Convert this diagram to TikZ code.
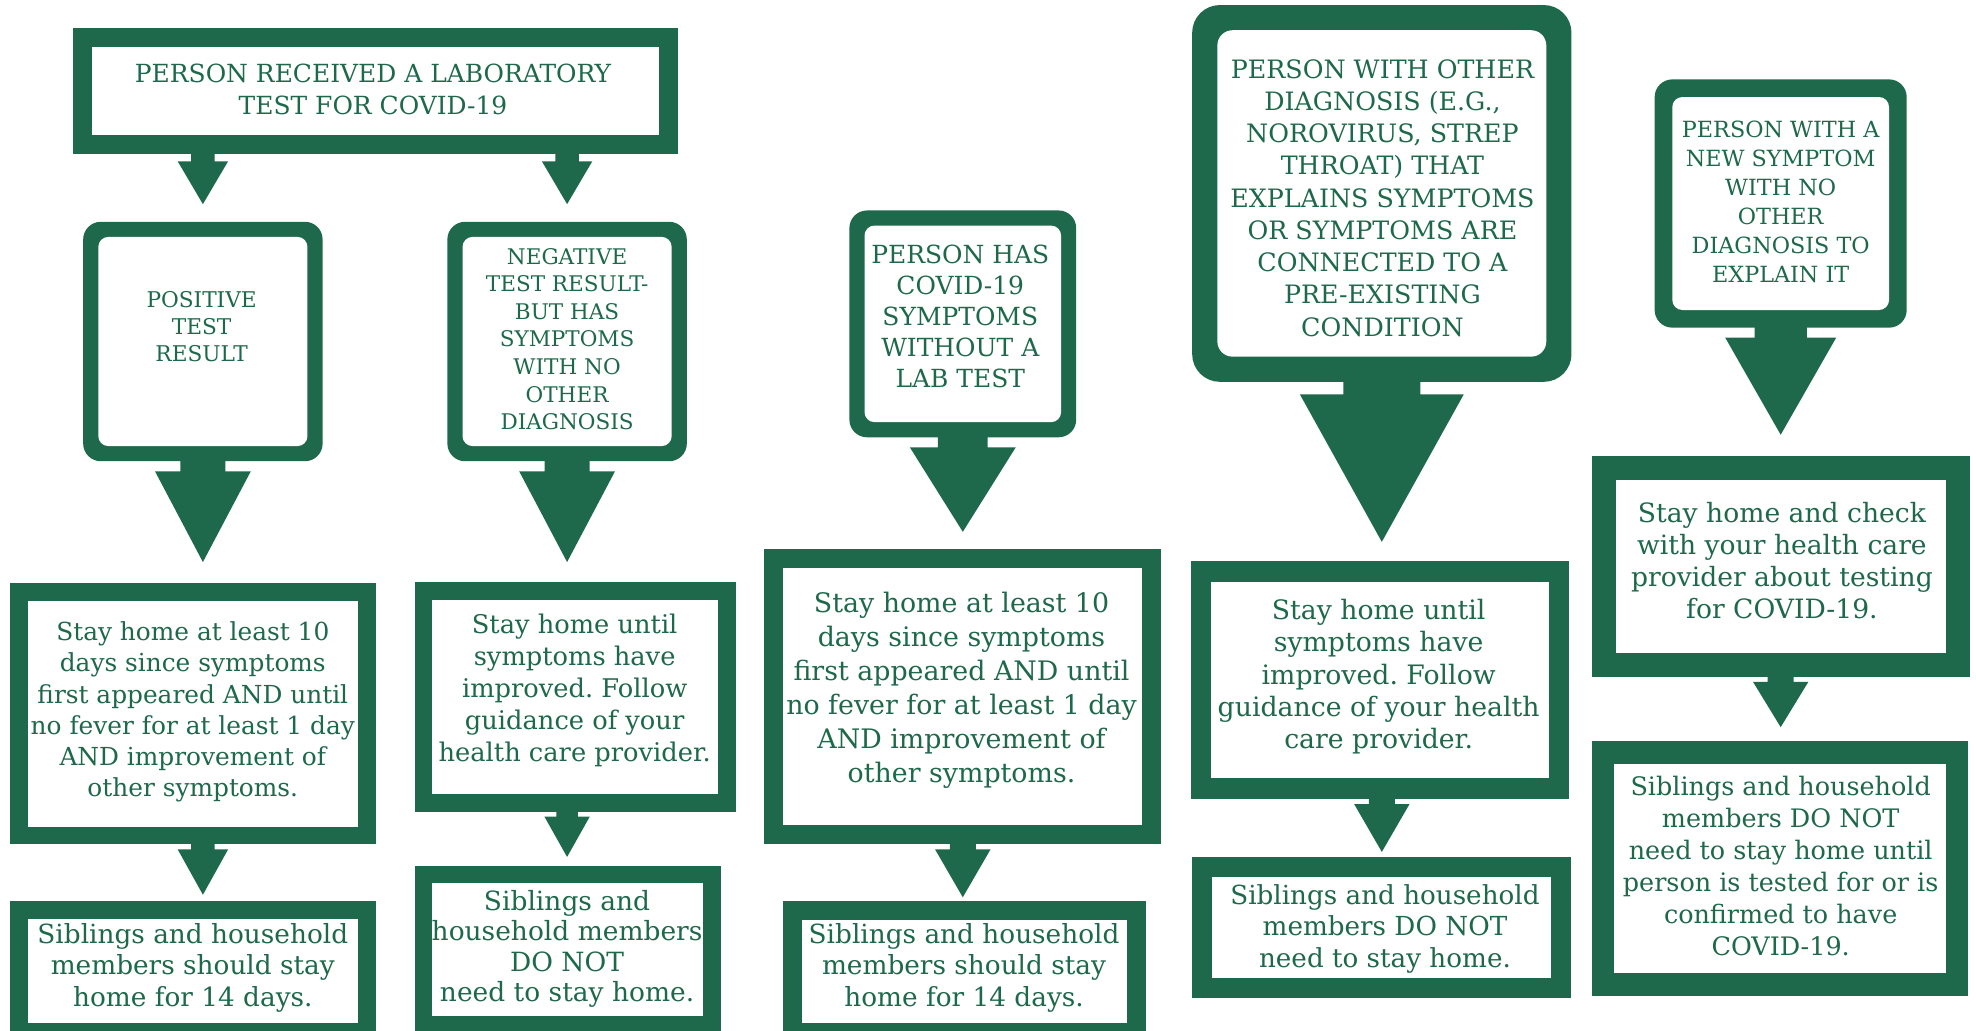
\documentclass[tikz,border=0pt]{standalone}
\usepackage{fontspec}
\setmainfont{DejaVu Serif}
\usetikzlibrary{calc}
\definecolor{gr}{HTML}{1E694B}
\frenchspacing
\tikzset{
  outerbox/.style={fill=gr, draw=none, inner sep=0pt, outer sep=0pt},
  innerbox/.style={fill=white, draw=none, inner sep=0pt, outer sep=0pt},
  txt/.style={text=gr, align=center, inner sep=0pt},
}
\newcommand{\setfs}[2]{\fontsize{#1}{#2}\selectfont}
% #1 source, #2 target, #3 node giving x, #4 half width, #5 stem height, #6 gap
\newcommand{\garrow}[6]{%
  \path (#3.center |- #1.south) coordinate (gas) (#3.center |- #2.north) coordinate (gat);
  \fill[gr] ($(gas)+({-0.47*#4},-1)$) -- ($(gas)+({-0.47*#4},#5)$) -- ($(gas)+(-#4,#5)$)
    -- ($(gat)+(0,-#6)$) -- ($(gas)+(#4,#5)$) -- ($(gas)+({0.47*#4},#5)$)
    -- ($(gas)+({0.47*#4},-1)$) -- cycle;
}
\begin{document}
\begin{tikzpicture}[x=1pt,y=-1pt]
\useasboundingbox (0,0) rectangle (1568,818);
\fill[white] (0,0) rectangle (1568,818);
\clip (0,0) rectangle (1568,818);

% ---- boxes ----
\node[outerbox, minimum width=480pt, minimum height=100pt] (T) at (298,72) {};
\node[innerbox, minimum width=450pt, minimum height=70pt] (Ti) at (T) {};

\node[outerbox, rounded corners=14pt, minimum width=190pt, minimum height=190pt] (P) at (161,271) {};
\node[innerbox, rounded corners=8pt, minimum width=166pt, minimum height=166pt] (Pi) at (P) {};

\node[outerbox, rounded corners=14pt, minimum width=190pt, minimum height=190pt] (N) at (450,271) {};
\node[innerbox, rounded corners=8pt, minimum width=166pt, minimum height=166pt] (Ni) at (N) {};

\node[outerbox, rounded corners=14pt, minimum width=180pt, minimum height=180pt] (H) at (764,257) {};
\node[innerbox, rounded corners=8pt, minimum width=156pt, minimum height=156pt] (Hi) at (H) {};

\node[outerbox, rounded corners=22pt, minimum width=301pt, minimum height=299pt] (O) at (1096.5,153.5) {};
\node[innerbox, rounded corners=12pt, minimum width=261pt, minimum height=259pt] (Oi) at (O) {};

\node[outerbox, rounded corners=14pt, minimum width=200pt, minimum height=197pt] (W) at (1413,161.5) {};
\node[innerbox, rounded corners=8pt, minimum width=172pt, minimum height=169pt] (Wi) at (W) {};

\node[outerbox, minimum width=290pt, minimum height=207pt] (S1) at (153,566.5) {};
\node[innerbox, minimum width=262pt, minimum height=179pt] (S1i) at (S1) {};
\node[outerbox, minimum width=290pt, minimum height=111pt] (B1) at (153,770.5) {};
\node[innerbox, minimum width=262pt, minimum height=83pt] (B1i) at (B1) {};

\node[outerbox, minimum width=255pt, minimum height=182pt] (S2) at (456.5,553) {};
\node[innerbox, minimum width=227pt, minimum height=154pt] (S2i) at (S2) {};
\node[outerbox, minimum width=243pt, minimum height=133pt] (B2) at (450.5,753.5) {};
\node[innerbox, minimum width=215pt, minimum height=105pt] (B2i) at (B2) {};

\node[outerbox, minimum width=315pt, minimum height=234pt] (S3) at (763.5,553) {};
\node[innerbox, minimum width=285pt, minimum height=204pt] (S3i) at (S3) {};
\node[outerbox, minimum width=288pt, minimum height=112pt] (B3) at (765,771) {};
\node[innerbox, minimum width=258pt, minimum height=82pt] (B3i) at (B3) {};

\node[outerbox, minimum width=300pt, minimum height=189pt] (S4) at (1095,539.5) {};
\node[innerbox, minimum width=268pt, minimum height=155pt] (S4i) at (S4) {};
\node[outerbox, minimum width=301pt, minimum height=112pt] (B4) at (1096.5,736) {};
\node[innerbox, minimum width=269pt, minimum height=80pt] (B4i) at (B4) {};

\node[outerbox, minimum width=300pt, minimum height=175pt] (S5) at (1413,449.5) {};
\node[innerbox, minimum width=262pt, minimum height=137pt] (S5i) at (S5) {};
\node[outerbox, minimum width=299pt, minimum height=202pt] (B5) at (1412.5,689) {};
\node[innerbox, minimum width=263pt, minimum height=166pt] (B5i) at (B5) {};

% ---- arrows ----
\garrow{T}{P}{P}{20}{6}{14}
\garrow{T}{N}{N}{20}{6}{14}
\garrow{P}{S1}{P}{38}{8}{17}
\garrow{S1}{B1}{P}{20}{4}{5}
\garrow{N}{S2}{N}{38}{8}{16}
\garrow{S2}{B2}{N}{18}{4}{7}
\garrow{H}{S3}{H}{42}{8}{14}
\garrow{S3}{B3}{H}{22}{4}{3}
\garrow{O}{S4}{O}{65}{10}{15}
\garrow{S4}{B4}{B4}{22}{4}{4}
\garrow{W}{S5}{W}{44}{8}{17}
\garrow{S5}{B5}{S5}{22}{4}{11}

% ---- texts ----
\node[txt, font=\setfs{19.8}{25}] (tT) at (296,71) {PERSON RECEIVED A LABORATORY\\TEST FOR COVID-19};
\node[txt, font=\setfs{17.2}{21.6}] (tP) at (160,259) {POSITIVE\\TEST\\RESULT};
\node[txt, font=\setfs{17.1}{21.9}] (tN) at (450,269) {NEGATIVE\\TEST RESULT-\\BUT HAS\\SYMPTOMS\\WITH NO\\OTHER\\DIAGNOSIS};
\node[txt, font=\setfs{19.8}{24.5}] (tH) at (762,251) {PERSON HAS\\COVID-19\\SYMPTOMS\\WITHOUT A\\LAB TEST};
\node[txt, font=\setfs{20.1}{25.6}] (tO) at (1097,157) {PERSON WITH OTHER\\DIAGNOSIS (E.G.,\\NOROVIRUS, STREP\\THROAT) THAT\\EXPLAINS SYMPTOMS\\OR SYMPTOMS ARE\\CONNECTED TO A\\PRE-EXISTING\\CONDITION};
\node[txt, font=\setfs{17.7}{23}] (tW) at (1413,160) {PERSON WITH A\\NEW SYMPTOM\\WITH NO\\OTHER\\DIAGNOSIS TO\\EXPLAIN IT};

\node[txt, font=\setfs{19.7}{24.8}] (tS1) at (153,565) {Stay home at least 10\\days since symptoms\\first appeared AND until\\no fever for at least 1 day\\AND improvement of\\other symptoms.};
\node[txt, font=\setfs{20.9}{25}] (tB1) at (153,768) {Siblings and household\\members should stay\\home for 14 days.};

\node[txt, font=\setfs{20.4}{25.3}] (tS2) at (456,548) {Stay home until\\symptoms have\\improved. Follow\\guidance of your\\health care provider.};
\node[txt, font=\setfs{21}{24}] (tB2) at (450,753) {Siblings and\\household members\\DO NOT\\need to stay home.};

\node[txt, font=\setfs{21.3}{27}] (tS3) at (763,548) {Stay home at least 10\\days since symptoms\\first appeared AND until\\no fever for at least 1 day\\AND improvement of\\other symptoms.};
\node[txt, font=\setfs{20.9}{25}] (tB3) at (765,768) {Siblings and household\\members should stay\\home for 14 days.};

\node[txt, font=\setfs{21.2}{25.5}] (tS4) at (1094,537) {Stay home until\\symptoms have\\improved. Follow\\guidance of your health\\care provider.};
\node[txt, font=\setfs{20.8}{25}] (tB4) at (1099,737) {Siblings and household\\members DO NOT\\need to stay home.};

\node[txt, font=\setfs{21.1}{25.3}] (tS5) at (1414,445) {Stay home and check\\with your health care\\provider about testing\\for COVID-19.};
\node[txt, font=\setfs{20.2}{25.4}] (tB5) at (1413,687) {Siblings and household\\members DO NOT\\need to stay home until\\person is tested for or is\\confirmed to have\\COVID-19.};
\end{tikzpicture}
\end{document}
